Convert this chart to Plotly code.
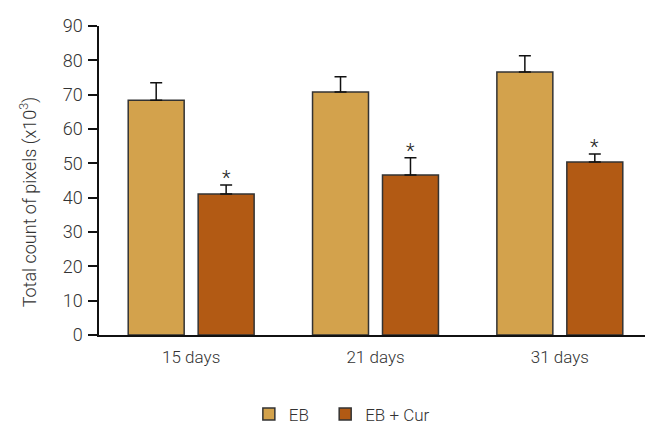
import plotly.graph_objects as go

categories = ["15 days", "21 days", "31 days"]
eb_values = [68.4, 70.8, 76.6]
eb_errors = [5.1, 4.4, 4.7]
cur_values = [41.1, 46.6, 50.4]
cur_errors = [2.6, 5.0, 2.3]
significant = ["*", "*", "*"]
y_ticks = [0, 10, 20, 30, 40, 50, 60, 70, 80, 90]

FONT = "Roboto"
TXT = "#333333"
fig = go.Figure()
fig.add_trace(go.Bar(
    name="EB", x=categories, y=eb_values, legend="legend",
    marker=dict(color="#D3A24C", line=dict(color="#333333", width=1.5)),
    error_y=dict(type="data", array=eb_errors, arrayminus=[0]*3, symmetric=False,
                 color="#111111", thickness=1.5, width=6),
))
fig.add_trace(go.Bar(
    name="EB + Cur", x=categories, y=cur_values, legend="legend2",
    marker=dict(color="#B25A14", line=dict(color="#333333", width=1.5)),
    error_y=dict(type="data", array=cur_errors, arrayminus=[0]*3, symmetric=False,
                 color="#111111", thickness=1.5, width=6),
))

for i, (v, e, s) in enumerate(zip(cur_values, cur_errors, significant)):
    fig.add_annotation(x=i + 0.19, y=v + e, xref="x", yref="y", text=s,
                       showarrow=False, yanchor="bottom", yshift=-7,
                       font=dict(family=FONT, size=20, color="#222222", weight=300))

fig.add_annotation(text="Total count of pixels (x10<sup>3</sup>)", textangle=-90,
                   xref="paper", yref="paper", x=-0.128, y=0.43,
                   xanchor="center", yanchor="middle", showarrow=False,
                   font=dict(family=FONT, size=18, color=TXT, weight=300))

legend_font = dict(family=FONT, size=17, color=TXT, weight=300)
# page body has an 8px default margin: compensate so the plot lands where the reference has it
fig.update_layout(
    width=645, height=419,
    margin=dict(l=91, r=1, t=18, b=92, autoexpand=False),
    paper_bgcolor="white", plot_bgcolor="white",
    barmode="group", bargap=0.241, bargroupgap=0.2,
    font=dict(family=FONT, size=17, color=TXT, weight=300),
    showlegend=True,
    legend=dict(orientation="h", x=0.271, xanchor="left", y=0.03, yanchor="middle",
                yref="container", font=legend_font, itemwidth=30),
    legend2=dict(orientation="h", x=0.409, xanchor="left", y=0.03, yanchor="middle",
                 yref="container", font=legend_font, itemwidth=30),
    xaxis=dict(showline=True, linecolor="#111111", linewidth=1.5, ticks="",
               showgrid=False, range=[-0.5, 2.5], automargin=False,
               ticklabelstandoff=6,
               tickfont=dict(family=FONT, size=17, color=TXT, weight=300)),
    yaxis=dict(range=[0, 90], tickvals=y_ticks, showline=True, linecolor="#111111",
               linewidth=1.5, ticks="outside", ticklen=9, tickwidth=1.5, tickcolor="#111111",
               showgrid=False, zeroline=False, automargin=False,
               ticklabelstandoff=2,
               tickfont=dict(family=FONT, size=18, color=TXT, weight=300)),
)
fig.write_html("out.html")
